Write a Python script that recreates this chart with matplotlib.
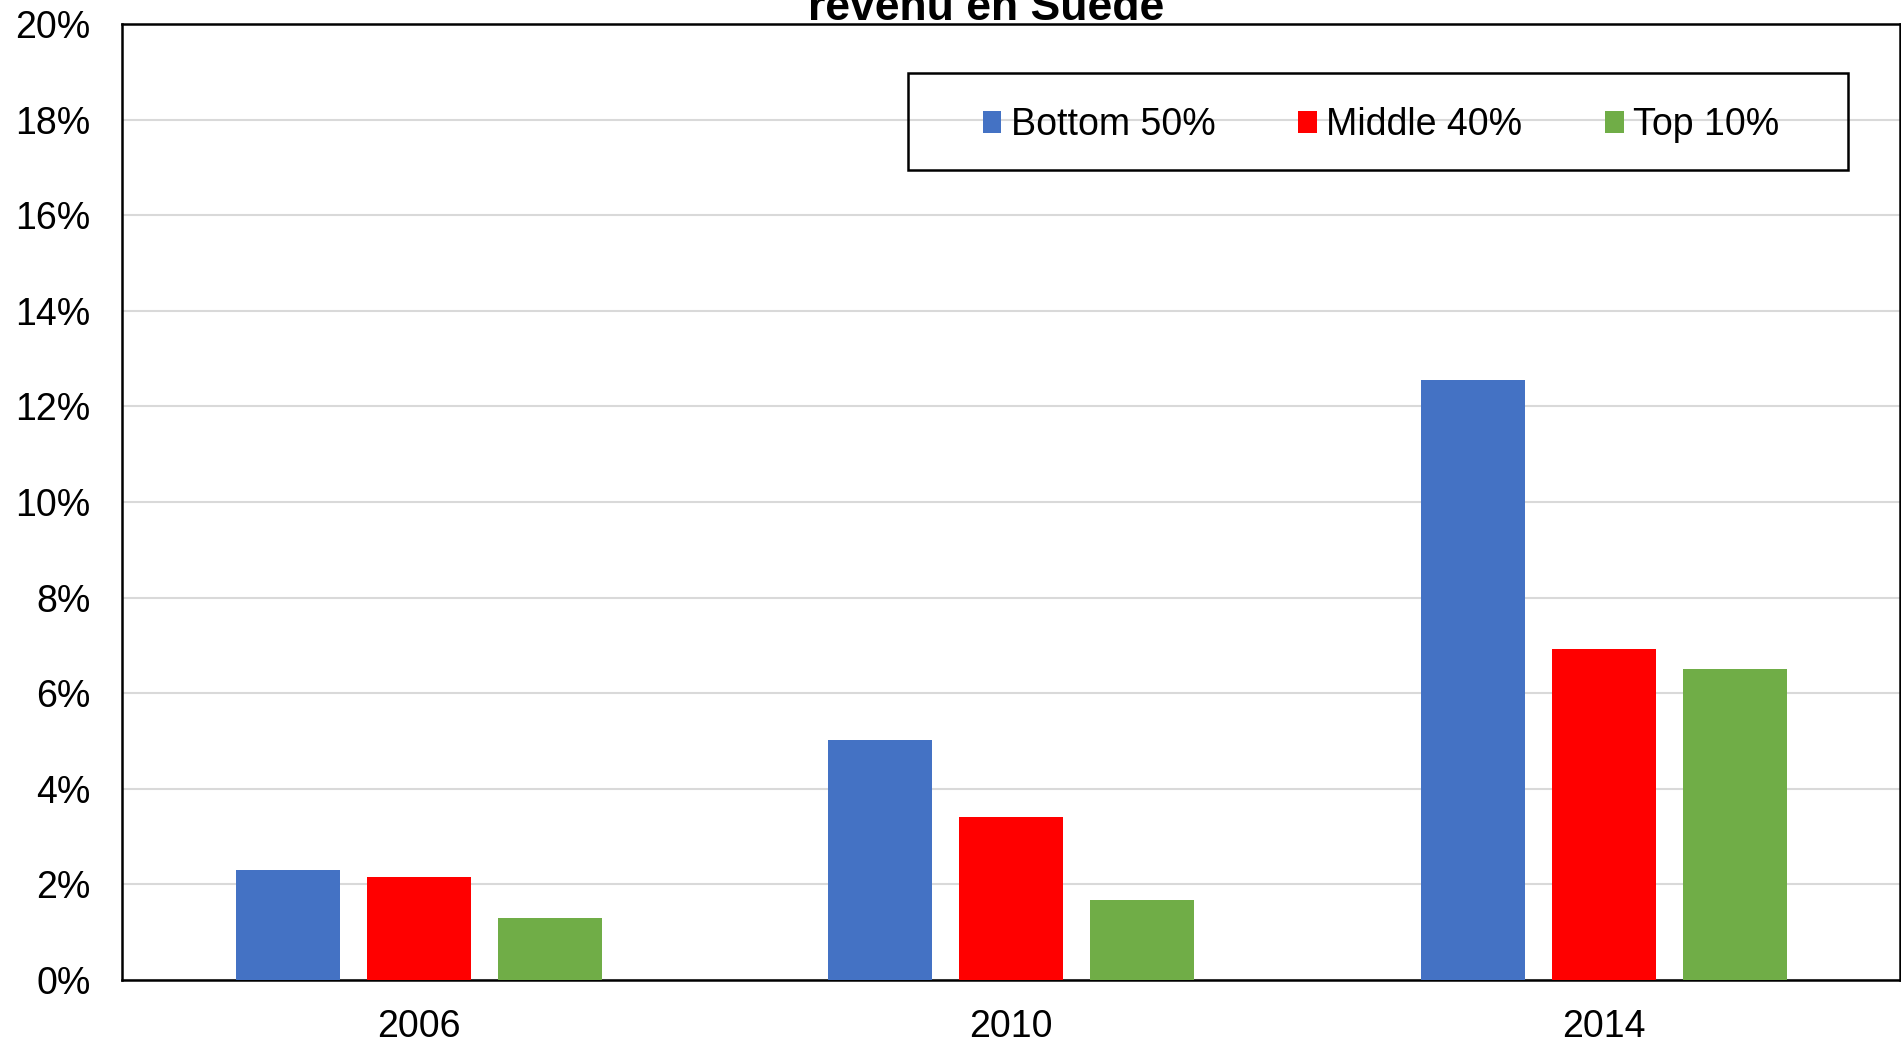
import matplotlib
matplotlib.use("Agg")
import matplotlib.pyplot as plt
from matplotlib.patches import Rectangle
import numpy as np

plt.rcParams['font.family'] = ['Liberation Sans', 'DejaVu Sans']

years = ['2006', '2010', '2014']
series = ['Bottom 50%', 'Middle 40%', 'Top 10%']
bottom50 = [2.31, 5.03, 12.56]
middle40 = [2.16, 3.40, 6.93]
top10 = [1.29, 1.68, 6.50]
colors = ['#4472C4', '#FF0000', '#70AD47']
yticks = [0, 2, 4, 6, 8, 10, 12, 14, 16, 18, 20]

fig = plt.figure(figsize=(19.01, 10.41), dpi=100)
ax = fig.add_axes([0.0644, 0.0586, 0.9351, 0.9184])

x = np.arange(len(years))
w = 0.176
step = 0.221
for i, (vals, name) in enumerate(zip([bottom50, middle40, top10], series)):
    ax.bar(x + (i - 1) * step, vals, width=w, color=colors[i], label=name, zorder=3)

ax.set_xlim(-0.5, 2.5)
ax.set_ylim(0, 20)
ax.set_yticks(yticks)
ax.set_yticklabels([f'{t}%' for t in yticks])
ax.set_xticks(x)
ax.set_xticklabels(years)
ax.tick_params(axis='both', length=0, labelsize=27)
ax.tick_params(axis='y', pad=23)
ax.tick_params(axis='x', pad=21)
ax.grid(axis='y', color='#D9D9D9', linewidth=1.5, zorder=0)
for s in ax.spines.values():
    s.set_linewidth(1.8)
    s.set_color('black')

# legend without frame, box drawn separately
leg = ax.legend(loc='center', bbox_to_anchor=(0.708, 0.894), ncol=3, frameon=False,
                fontsize=27, handlelength=0.5, handleheight=0.5, handletextpad=0.25,
                columnspacing=2.2)
ax.add_patch(Rectangle((0.4417, 0.8473), 0.5291, 0.1014, transform=ax.transAxes,
                       fill=False, edgecolor='black', linewidth=1.8, zorder=5))

fig.text(0.519, 0.981, 'revenu en Suède', ha='center', va='baseline',
         fontsize=32, fontweight='bold')

fig.savefig('out.png', dpi=100)
